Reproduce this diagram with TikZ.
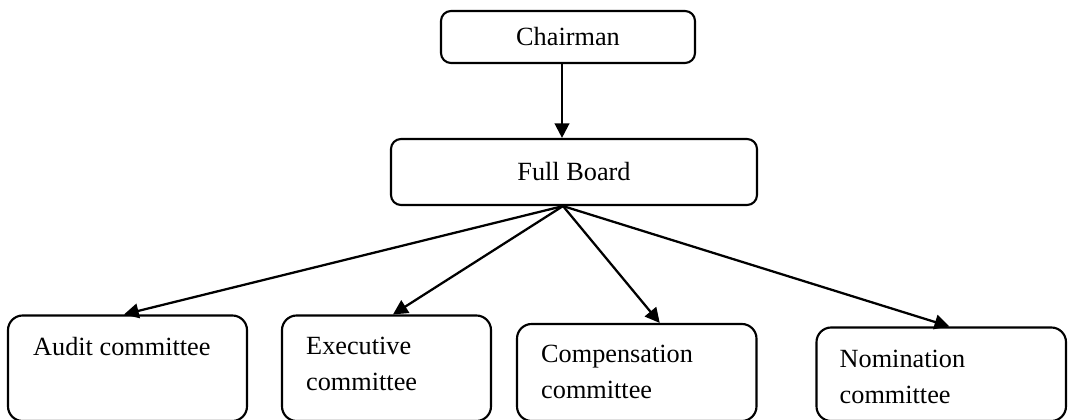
\documentclass[tikz,border=0pt]{standalone}
\usepackage{fontspec}
\setmainfont{Liberation Serif}
\usetikzlibrary{arrows.meta,calc}

\tikzset{
  box/.style={draw, line width=1.6pt, rounded corners=7.5pt, inner sep=0pt},
  lowbox/.style={box, rounded corners=11pt},
  lbl/.style={font=\fontsize{19.7}{27}\selectfont, inner sep=0pt, align=left},
  arr/.style={line width=1.7pt, -{Triangle[length=11pt,width=11pt]}}
}

\begin{document}
\begin{tikzpicture}[x=0.75pt, y=-0.75pt]
  \useasboundingbox (0,0) rectangle (1068,420);
  \clip (0,0) rectangle (1068,420);

  % top of the hierarchy
  \node[box, minimum width=254*0.75pt, minimum height=52*0.75pt, lbl]
    (chair) at (568,37) {Chairman};
  \node[box, minimum width=366*0.75pt, minimum height=66*0.75pt, lbl]
    (board) at (574,172) {Full Board};

  % committees
  \node[lowbox, minimum width=239*0.75pt, minimum height=105.5*0.75pt]
    (audit) at (127.5,368.25) {};
  \node[lowbox, minimum width=209*0.75pt, minimum height=105.5*0.75pt]
    (exec) at (386.5,368.25) {};
  \node[lowbox, minimum width=239.5*0.75pt, minimum height=97*0.75pt]
    (comp) at (636.75,372.5) {};
  \node[lowbox, minimum width=249.5*0.75pt, minimum height=93.5*0.75pt]
    (nom) at (941.25,374.25) {};

  % committee names; base anchor is the baseline of the last line
  \node[lbl, anchor=base west] (auditT) at ($(audit.north west)+(26,41.5)$) {Audit committee};
  \node[lbl, anchor=base west] (execT)  at ($(exec.north west)+(25,76.5)$) {Executive\\committee};
  \node[lbl, anchor=base west] (compT)  at ($(comp.north west)+(25,75.5)$) {Compensation\\committee};
  \node[lbl, anchor=base west] (nomT)   at ($(nom.north west)+(24,77)$) {Nomination\\committee};

  % connectors
  \coordinate (down) at ($(chair.south)+(-6,0)$);
  \draw[arr] (down) -- (down |- board.north);
  \coordinate (hub) at ($(board.south)+(-11,0)$);
  \draw[arr] (hub) -- ($(audit.north)+(-3.5,0)$);
  \draw[arr] (hub) -- ($(exec.north)+(6.5,0)$);
  \draw[arr] (hub) -- ($(comp.north)+(23,0)$);
  \draw[arr] (hub) -- ($(nom.north)+(8,0)$);
\end{tikzpicture}
\end{document}
